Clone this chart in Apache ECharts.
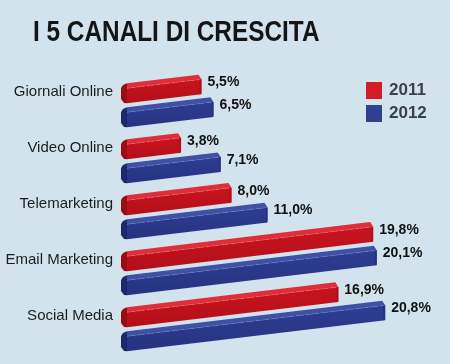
<!DOCTYPE html>
<html>
<head>
<meta charset="utf-8">
<script src="https://cdn.jsdelivr.net/npm/echarts@6/dist/echarts.min.js"></script>
<style>
html,body{margin:0;padding:0;background:#d3e3ee;}
#chart{width:450px;height:364px;}
</style>
</head>
<body>
<div id="chart"></div>
<script>
var titleText = 'I 5 CANALI DI CRESCITA';
var categories = ['Giornali Online', 'Video Online', 'Telemarketing', 'Email Marketing', 'Social Media'];
var seriesNames = ['2011', '2012'];
var values2011 = [5.5, 3.8, 8.0, 19.8, 16.9];
var values2012 = [6.5, 7.1, 11.0, 20.1, 20.8];

var X_MIN = -1.2, X_MAX = 26.2;
var SLOPE = 0.12;

var palettes = [
  {top: '#e02d38', front: '#c7141f', frontDark: '#b30f19', cap: '#9c0c15', line: '#f07076'},
  {top: '#3f51a6', front: '#2d3d91', frontDark: '#253380', cap: '#1d296a', line: '#6e80c8'}
];

function makeRender(idx, offset) {
  var pal = palettes[idx];
  return function (params, api) {
    var v = api.value(0), c = api.value(1);
    var p0 = api.coord([X_MIN, c]);
    var p1 = api.coord([v, c]);
    var x0 = p0[0], x1 = p1[0];
    var yc = p0[1] + offset;
    var h = 20, t = 5, capW = 6;
    var yT = yc - h / 2, yF = yT + t, yB = yc + h / 2;
    function Y(x, y) { return y - SLOPE * (x - x0); }
    var xa = x0 + capW;
    var children = [];
    children.push({
      type: 'polygon',
      shape: {points: [[xa, Y(xa, yF)], [x1, Y(x1, yF)], [x1, Y(x1, yB)], [xa, Y(xa, yB)]]},
      style: {fill: new echarts.graphic.LinearGradient(0, 0, 0, 1, [
        {offset: 0, color: pal.front}, {offset: 1, color: pal.frontDark}])}
    });
    children.push({
      type: 'polygon',
      shape: {points: [[xa, Y(xa, yT)], [x1 - 3, Y(x1 - 3, yT)], [x1, Y(x1, yF)], [xa, Y(xa, yF)]]},
      style: {fill: pal.top}
    });
    children.push({
      type: 'line',
      shape: {x1: xa, y1: Y(xa, yF), x2: x1 - 1, y2: Y(x1 - 1, yF)},
      style: {stroke: pal.line, lineWidth: 0.8, lineDash: [3, 2], opacity: 0.7}
    });
    children.push({
      type: 'polygon',
      shape: {points: [[x0, yT + 4], [x0 + 2, yT + 1], [xa, Y(xa, yT)], [xa, Y(xa, yB)], [x0 + 3, yB - 1], [x0, yB - 5]]},
      style: {fill: pal.cap}
    });
    children.push({
      type: 'polygon',
      shape: {points: [[x1 - 2, Y(x1 - 2, yF)], [x1, Y(x1, yF)], [x1, Y(x1, yB) - 1], [x1 - 2, Y(x1 - 2, yB)]]},
      style: {fill: pal.frontDark}
    });
    children.push({
      type: 'text',
      style: {
        x: x1 + 6, y: Y(x1, yc) - 2,
        text: v.toFixed(1).replace('.', ',') + '%',
        fill: '#111',
        font: 'bold 14px "Liberation Sans", Arial, sans-serif',
        align: 'left', verticalAlign: 'middle'
      }
    });
    return {type: 'group', children: children};
  };
}

var chart = echarts.init(document.getElementById('chart'), null, {renderer: 'canvas'});
chart.setOption({
  backgroundColor: '#d3e3ee',
  animation: false,
  graphic: [{
    type: 'text',
    x: 33, y: 33, scaleX: 0.84, scaleY: 1,
    style: {
      text: titleText,
      font: 'bold 29px "Liberation Sans", Arial, sans-serif',
      fill: '#151515',
      verticalAlign: 'middle', align: 'left'
    }
  }],
  legend: {
    data: seriesNames,
    orient: 'vertical',
    left: 361, top: 77,
    itemWidth: 16, itemHeight: 17, itemGap: 6,
    icon: 'rect',
    textStyle: {fontFamily: '"Liberation Sans", Arial, sans-serif', fontWeight: 'bold', fontSize: 17, color: '#3b4048', padding: [0, 0, 0, 2]}
  },
  grid: {left: 121, right: 0, top: 78, bottom: 6},
  xAxis: {type: 'value', min: X_MIN, max: X_MAX, show: false},
  yAxis: {
    type: 'category', data: categories, inverse: true,
    axisLine: {show: false}, axisTick: {show: false},
    axisLabel: {
      margin: 8, fontFamily: '"Liberation Sans", Arial, sans-serif', fontSize: 15, color: '#1c1c1c',
      verticalAlign: 'bottom', lineHeight: 28
    }
  },
  series: [
    {name: seriesNames[0], type: 'custom', itemStyle: {color: '#d21c28'},
     encode: {x: 0, y: 1}, data: values2011.map(function (v, i) { return [v, i]; }),
     renderItem: makeRender(0, -12)},
    {name: seriesNames[1], type: 'custom', itemStyle: {color: '#2f3f92'},
     encode: {x: 0, y: 1}, data: values2012.map(function (v, i) { return [v, i]; }),
     renderItem: makeRender(1, 12)}
  ]
});
</script>
</body>
</html>
